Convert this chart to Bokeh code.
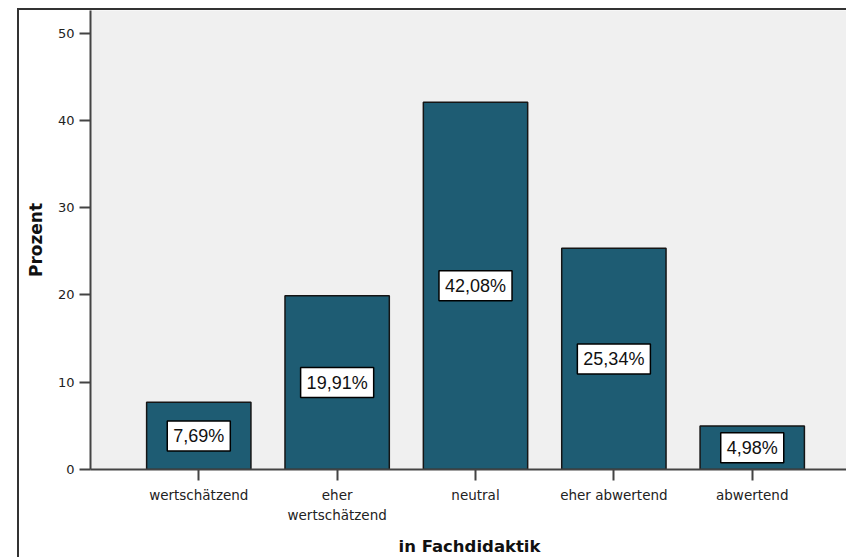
from bokeh.plotting import figure
from bokeh.models import ColumnDataSource, FixedTicker, Label, Range1d
from bokeh.embed import file_html
from bokeh.resources import INLINE

categories = ["wertschätzend", "eher\nwertschätzend", "neutral", "eher abwertend", "abwertend"]
percent = [7.69, 19.91, 42.08, 25.34, 4.98]
bar_labels = ["7,69%", "19,91%", "42,08%", "25,34%", "4,98%"]
y_ticks = [0, 10, 20, 30, 40, 50]
x_title = "in Fachdidaktik"
y_title = "Prozent"

xs = list(range(len(categories)))
src = ColumnDataSource(dict(x=xs, top=percent, label=bar_labels))

p = figure(width=827, height=547, output_backend="svg", toolbar_location=None,
           x_range=Range1d(-0.7826, 4.6957), y_range=Range1d(0, 52.58),
           min_border_left=71, min_border_right=0, min_border_top=0, min_border_bottom=88)
# outer chart frame: left and top edge
p.styles = {"box-sizing": "content-box", "margin-left": "17px", "margin-top": "8px",
            "border-left": "2px solid #333333", "border-top": "2px solid #333333"}
p.background_fill_color = "#F0F0F0"
p.border_fill_color = "white"
p.outline_line_color = None
p.grid.visible = False

p.vbar(x="x", top="top", width=0.754, bottom=0, source=src,
       fill_color="#1E5C73", line_color="#151515", line_width=1.5)

for x, v, t in zip(xs, percent, bar_labels):
    p.add_layout(Label(x=x, y=v / 2, text=t, text_align="center", text_baseline="middle",
                       background_fill_color="white", border_line_color="black",
                       border_line_width=1.5, padding=(6, 5), text_color="#111",
                       text_font="Liberation Sans", text_font_size="18px"))

ax = p.xaxis[0]
ax.ticker = FixedTicker(ticks=xs)
ax.major_label_overrides = {i: c for i, c in enumerate(categories)}
ax.minor_tick_line_color = None
ax.major_tick_out = 11
ax.major_tick_in = 0
ax.major_tick_line_width = 2
ax.major_tick_line_color = "#444444"
ax.axis_line_width = 2
ax.axis_line_color = "#444444"
ax.major_label_text_font = "DejaVu Sans"
ax.major_label_text_font_size = "13.5px"
ax.major_label_text_color = "#222222"
ax.major_label_standoff = 6
ax.major_label_text_line_height = 1.3
ax.axis_label = x_title
ax.axis_label_text_font = "DejaVu Sans"
ax.axis_label_text_font_style = "bold"
ax.axis_label_text_font_size = "16.5px"
ax.axis_label_text_color = "#111111"
ax.axis_label_standoff = 11

ay = p.yaxis[0]
ay.ticker = FixedTicker(ticks=y_ticks)
ay.minor_tick_line_color = None
ay.major_tick_out = 11
ay.major_tick_in = 0
ay.major_tick_line_width = 2
ay.major_tick_line_color = "#444444"
ay.axis_line_width = 2
ay.axis_line_color = "#444444"
ay.major_label_text_font = "DejaVu Sans"
ay.major_label_text_font_size = "13px"
ay.major_label_text_color = "#222222"
ay.major_label_standoff = 5
ay.axis_label = y_title
ay.axis_label_text_font = "DejaVu Sans"
ay.axis_label_text_font_style = "bold"
ay.axis_label_text_font_size = "17px"
ay.axis_label_text_color = "#111111"
ay.axis_label_standoff = 9

open("out.html", "w").write(file_html(p, INLINE))
